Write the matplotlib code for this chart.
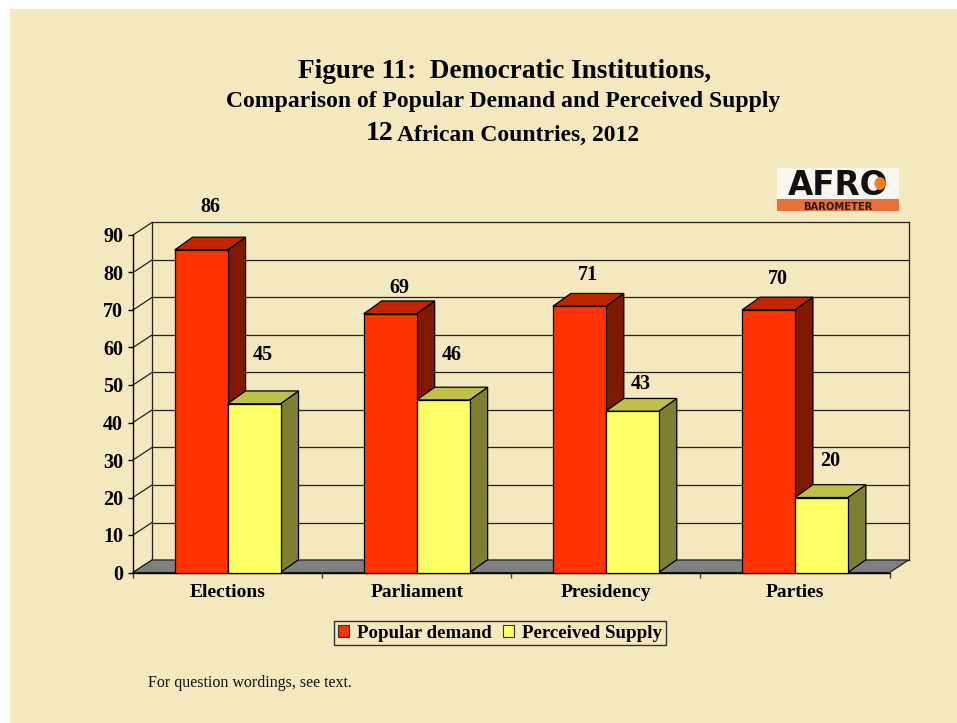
import matplotlib
matplotlib.use("Agg")
import matplotlib.pyplot as plt
from matplotlib.patches import Polygon, Rectangle, Patch, Ellipse

# ---- data ----
categories = ["Elections", "Parliament", "Presidency", "Parties"]
popular_demand = [86, 69, 71, 70]
perceived_supply = [45, 46, 43, 20]
series_names = ["Popular demand", "Perceived Supply"]
y_ticks = [0, 10, 20, 30, 40, 50, 60, 70, 80, 90]

# label lift above each bar's front top edge (pixels)
lift_demand = [43, 26, 31, 31]
lift_supply = [49, 45, 27, 36]

# ---- style ----
BG = "#F3E8BE"
SERIF = ["Liberation Serif", "DejaVu Serif"]
red = dict(front="#FF3300", top="#BF2600", side="#7F1A00")
yel = dict(front="#FFFF66", top="#BFBF4C", side="#7F7F33")

W, H, DPI = 957, 723, 100
fig = plt.figure(figsize=(W / DPI, H / DPI), dpi=DPI, facecolor="white")
fig.patches.append(Rectangle((10 / W, 0), 1 - 10 / W, 1 - 9 / H,
                             transform=fig.transFigure, facecolor=BG,
                             edgecolor="none", zorder=-10))

# front plane of the 3-D box (pixel geometry)
x0_px, x1_px = 133.0, 889.5
y0_px, y1_px = 572.5, 235.0
ax = fig.add_axes([x0_px / W, (H - y0_px) / H, (x1_px - x0_px) / W,
                   (y0_px - y1_px) / H])
ax.set_facecolor("none")
ax.set_xlim(0, len(categories))
ax.set_ylim(0, 90)

px_x = (x1_px - x0_px) / len(categories)   # pixels per category unit
px_y = (y0_px - y1_px) / 90.0               # pixels per value unit

# wall depth and bar depth, converted to data units
dx, dy = 19 / px_x, 12.5 / px_y
bdx, bdy = 18 / px_x, 12.8 / px_y

n = len(categories)
line_kw = dict(color="#222222", lw=0.9, clip_on=False)

# back wall and side wall gridlines
for v in y_ticks:
    ax.plot([dx, n + dx], [v + dy, v + dy], zorder=1, **line_kw)
    ax.plot([0, dx], [v, v + dy], zorder=1, **line_kw)
ax.plot([dx, dx], [dy, 90 + dy], zorder=1, **line_kw)
ax.plot([n + dx, n + dx], [dy, 90 + dy], zorder=1, **line_kw)

# floor
ax.add_patch(Polygon([(0, 0), (n, 0), (n + dx, dy), (dx, dy)], closed=True,
                     facecolor="#808080", edgecolor="#222222", lw=0.9,
                     zorder=2, clip_on=False))


def bar3d(x_left, width, value, col, z):
    pts_front = [(x_left, 0), (x_left + width, 0), (x_left + width, value),
                 (x_left, value)]
    pts_top = [(x_left, value), (x_left + width, value),
               (x_left + width + bdx, value + bdy), (x_left + bdx, value + bdy)]
    pts_side = [(x_left + width, 0), (x_left + width + bdx, bdy),
                (x_left + width + bdx, value + bdy), (x_left + width, value)]
    for pts, c in ((pts_side, col["side"]), (pts_top, col["top"]),
                   (pts_front, col["front"])):
        ax.add_patch(Polygon(pts, closed=True, facecolor=c, edgecolor="black",
                             lw=0.9, joinstyle="miter", zorder=z,
                             clip_on=False))


bw = 0.28
z = 3
for i in range(n):
    c = i + 0.5
    bar3d(c - bw, bw, popular_demand[i], red, z)
    bar3d(c, bw, perceived_supply[i], yel, z + 1)
    z += 2

# value labels
for i in range(n):
    c = i + 0.5
    for xl, v, lift in ((c - bw, popular_demand[i], lift_demand[i]),
                        (c, perceived_supply[i], lift_supply[i])):
        ax.annotate(str(v), xy=(xl + bw / 2, v), xytext=(9, lift),
                    textcoords="offset pixels", ha="center", va="center",
                    fontsize=14.5, fontweight="bold", family=SERIF,
                    color="black", zorder=20, annotation_clip=False)

# axes: front spines, ticks and labels
for s in ("top", "right"):
    ax.spines[s].set_visible(False)
for s in ("left", "bottom"):
    ax.spines[s].set_color("black")
    ax.spines[s].set_linewidth(1.0)
    ax.spines[s].set_zorder(2.5)

ax.set_yticks(y_ticks)
ax.set_yticklabels([str(t) for t in y_ticks], fontsize=14.5,
                   fontweight="bold", family=SERIF)
ax.tick_params(axis="y", direction="out", length=3.6, width=1.0, pad=3.5)

ax.set_xticks(range(n + 1))
ax.set_xticklabels([])
ax.tick_params(axis="x", which="major", direction="out", length=3.6,
               width=1.0, color="#444444")
ax.set_xticks([i + 0.5 for i in range(n)], minor=True)
ax.set_xticklabels(categories, minor=True, fontsize=14, fontweight="bold",
                   family=SERIF)
ax.tick_params(axis="x", which="minor", length=0, pad=8)

# legend
handles = [Patch(facecolor=red["front"], edgecolor="#333333", lw=0.8),
           Patch(facecolor=yel["front"], edgecolor="#333333", lw=0.8)]
leg = fig.legend(handles, series_names, loc="center",
                 bbox_to_anchor=(500 / W, 1 - 633 / H), ncol=2,
                 prop=dict(family=SERIF, weight="bold", size=13.6),
                 frameon=True, fancybox=False, framealpha=1,
                 handlelength=0.6, handleheight=0.6, handletextpad=0.4,
                 columnspacing=0.6, borderpad=0.2, borderaxespad=0)
leg.get_frame().set_facecolor(BG)
leg.get_frame().set_edgecolor("#333333")
leg.get_frame().set_linewidth(1.0)

# titles
def ftext(x, y, s, **kw):
    fig.text(x / W, 1 - y / H, s, family=SERIF, fontweight="bold",
             color="black", **kw)

ftext(505, 72, "Figure 11:  Democratic Institutions,", fontsize=19.6,
      ha="center", va="center")
ftext(503.5, 102, "Comparison of Popular Demand and Perceived Supply",
      fontsize=17, ha="center", va="center")
ftext(366, 134, "12", fontsize=20, ha="left", va="center")
ftext(397, 135, "African Countries, 2012", fontsize=17, ha="left",
      va="center")

fig.text(148 / W, 1 - 683 / H, "For question wordings, see text.",
         family=SERIF, fontsize=11.5, ha="left", va="center",
         color="#111111")

# logo
fig.patches.append(Rectangle((777 / W, 1 - 211 / H), 122 / W, 43 / H,
                             transform=fig.transFigure, facecolor="#FBF6EE",
                             edgecolor="none", zorder=1))
fig.patches.append(Rectangle((777 / W, 1 - 211 / H), 122 / W, 12 / H,
                             transform=fig.transFigure, facecolor="#E8703A",
                             edgecolor="none", zorder=2))
fig.text(838 / W, 1 - 195 / H, "AFRO", family=["DejaVu Sans"],
         fontweight="heavy", fontsize=23.5, ha="center", va="baseline",
         color="#111111", zorder=3)
fig.patches.append(Ellipse((880 / W, 1 - 183.5 / H), 11 / W, 13 / H,
                           transform=fig.transFigure, facecolor="#F08020",
                           edgecolor="none", zorder=4))
fig.text(838 / W, 1 - 210 / H, "BAROMETER", family=["DejaVu Sans"],
         fontweight="heavy", fontsize=7.2, ha="center", va="baseline",
         color="#2A1A10", zorder=5)

fig.savefig("out.png", dpi=DPI, facecolor=fig.get_facecolor())
